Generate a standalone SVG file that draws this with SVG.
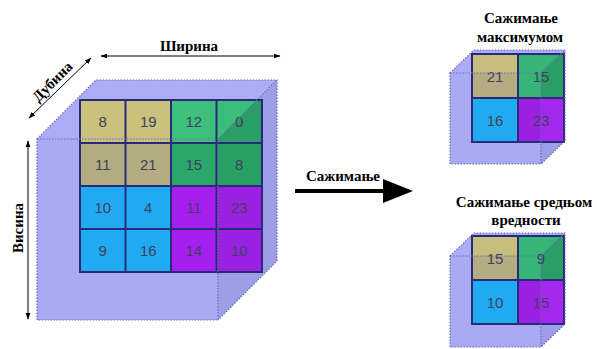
<svg xmlns="http://www.w3.org/2000/svg" width="597" height="349" viewBox="0 0 597 349">
<style>
.top{fill:#adadf6}
.front{fill:#aaaaf4}
.side{fill:#9e9ee8}
.edge{fill:none;stroke:#6a6ab0;stroke-width:1.2;stroke-dasharray:1.5 1.5}
.grid{fill:none;stroke:#2a2a7a;stroke-width:2}
.num{font-family:"Liberation Sans",Arial,sans-serif;font-size:15px;fill:#40405e;text-anchor:middle}
.lbl{font-family:"Liberation Serif","DejaVu Serif","Times New Roman",serif;font-size:15px;font-weight:bold;fill:#000;text-anchor:middle}
.thin{stroke:#000;stroke-width:1;fill:none}
</style>
<defs>
<marker id="ah" viewBox="0 0 10 10" refX="9" refY="5" markerWidth="7" markerHeight="7" orient="auto-start-reverse"><path d="M0,1.5 L10,5 L0,8.5 z" fill="#000"/></marker>
</defs>
<rect width="597" height="349" fill="#fff"/>

<g id="input-cube">
<polygon class="top" points="37,139 96,80 277,80 218,139"/>
<polygon class="side" points="218,139 277,80 277,261 218,320"/>
<rect class="front" x="37" y="139" width="181" height="181"/>
<rect x="80" y="100" width="45.5" height="43" fill="#cac27c"/>
<rect x="125.5" y="100" width="45.5" height="43" fill="#cac27c"/>
<rect x="171" y="100" width="45.5" height="43" fill="#3cc07c"/>
<rect x="216.5" y="100" width="45.5" height="43" fill="#3abe7a"/>
<polygon points="257,100 262,100 262,143 216.5,143 216.5,140.5" fill="#2a9e66"/>
<rect x="80" y="143" width="45.5" height="43" fill="#b4ac81"/>
<rect x="125.5" y="143" width="45.5" height="43" fill="#b4ac81"/>
<rect x="171" y="143" width="45.5" height="43" fill="#2ba76c"/>
<rect x="216.5" y="143" width="45.5" height="43" fill="#27a064"/>
<rect x="80" y="186" width="45.5" height="43" fill="#20aaf2"/>
<rect x="125.5" y="186" width="45.5" height="43" fill="#20aaf2"/>
<rect x="171" y="186" width="45.5" height="43" fill="#a41ff0"/>
<rect x="216.5" y="186" width="45.5" height="43" fill="#9a20e2"/>
<rect x="80" y="229" width="45.5" height="43" fill="#20aaf2"/>
<rect x="125.5" y="229" width="45.5" height="43" fill="#20aaf2"/>
<rect x="171" y="229" width="45.5" height="43" fill="#a41ff0"/>
<rect x="216.5" y="229" width="45.5" height="43" fill="#9a20e2"/>
<path class="grid" d="M80,100 H262 V272 H80 Z M125.5,100 V272 M171,100 V272 M216.5,100 V272 M80,143 H262 M80,186 H262 M80,229 H262"/>
<text class="num" x="102.75" y="127">8</text>
<text class="num" x="148.25" y="127">19</text>
<text class="num" x="193.75" y="127">12</text>
<text class="num" x="239.25" y="127">0</text>
<text class="num" x="102.75" y="170">11</text>
<text class="num" x="148.25" y="170">21</text>
<text class="num" x="193.75" y="170">15</text>
<text class="num" x="239.25" y="170">8</text>
<text class="num" x="102.75" y="213">10</text>
<text class="num" x="148.25" y="213">4</text>
<text class="num" x="193.75" y="213">11</text>
<text class="num" x="239.25" y="213">23</text>
<text class="num" x="102.75" y="256">9</text>
<text class="num" x="148.25" y="256">16</text>
<text class="num" x="193.75" y="256">14</text>
<text class="num" x="239.25" y="256">10</text>
<path class="edge" d="M37,139 L96,80 H277 V261 L218,320 M218,139 L277,80 M37,139 H218 V320 H37 Z"/>
</g>

<g id="max-cube">
<polygon class="top" points="450,73 474,50 565,50 541,73"/>
<polygon class="side" points="541,73 565,50 565,141 541,164"/>
<rect class="front" x="450" y="73" width="91" height="91"/>
<rect x="472" y="54" width="46" height="19" fill="#c6be7c"/>
<rect x="472" y="73" width="46" height="25" fill="#b5ad81"/>
<rect x="518" y="54" width="46" height="44" fill="#36b676"/>
<polygon points="560.8,54 564,54 564,98 541,98 541,73" fill="#2a9e66"/>
<rect x="472" y="98" width="46" height="44" fill="#20aaf2"/>
<rect x="518" y="98" width="46" height="44" fill="#9c20e4"/>
<rect x="541" y="98" width="23" height="44" fill="#a428ee"/>
<path class="grid" d="M472,54 H564 V142 H472 Z M518,54 V142 M472,98 H564"/>
<text class="num" x="495" y="81.5">21</text>
<text class="num" x="541" y="81.5">15</text>
<text class="num" x="495" y="125.5">16</text>
<text class="num" x="541" y="125.5">23</text>
<path class="edge" d="M450,73 L474,50 H565 V141 L541,164 M541,73 L565,50 M450,73 H541 V164 H450 Z"/>
</g>

<g id="avg-cube">
<polygon class="top" points="450,256 474,233 565,233 541,256"/>
<polygon class="side" points="541,256 565,233 565,324 541,347"/>
<rect class="front" x="450" y="256" width="91" height="91"/>
<rect x="472" y="236" width="46" height="20" fill="#c6be7c"/>
<rect x="472" y="256" width="46" height="24" fill="#b5ad81"/>
<rect x="518" y="236" width="46" height="44" fill="#36b676"/>
<polygon points="561.8,236 564,236 564,280 541,280 541,256" fill="#2a9e66"/>
<rect x="472" y="280" width="46" height="44" fill="#20aaf2"/>
<rect x="518" y="280" width="46" height="44" fill="#9c20e4"/>
<rect x="541" y="280" width="23" height="44" fill="#a428ee"/>
<path class="grid" d="M472,236 H564 V324 H472 Z M518,236 V324 M472,280 H564"/>
<text class="num" x="495" y="263.5">15</text>
<text class="num" x="541" y="263.5">9</text>
<text class="num" x="495" y="307.5">10</text>
<text class="num" x="541" y="307.5">15</text>
<path class="edge" d="M450,256 L474,233 H565 V324 L541,347 M541,256 L565,233 M450,256 H541 V347 H450 Z"/>
</g>

<g id="connectors">
<line class="thin" x1="101" y1="56" x2="280" y2="56" marker-start="url(#ah)" marker-end="url(#ah)"/>
<line class="thin" x1="29" y1="118" x2="91" y2="58" marker-start="url(#ah)" marker-end="url(#ah)"/>
<line class="thin" x1="28" y1="141" x2="28" y2="319" marker-start="url(#ah)" marker-end="url(#ah)"/>
<line x1="295" y1="191" x2="385" y2="191" stroke="#000" stroke-width="4"/>
<polygon points="383,179 413,191 383,203" fill="#000"/>
</g>

<g id="labels">
<text class="lbl" x="189" y="51">Ширина</text>
<text class="lbl" transform="translate(56,85) rotate(-45)" x="0" y="0">Дубина</text>
<text class="lbl" transform="translate(23,228) rotate(-90)" x="0" y="0">Висина</text>
<text class="lbl" x="343" y="181">Сажимање</text>
<text class="lbl" x="521" y="23">Сажимање</text>
<text class="lbl" x="520" y="42">максимумом</text>
<text class="lbl" x="524" y="207">Сажимање средњом</text>
<text class="lbl" x="526" y="225">вредности</text>
</g>
</svg>
